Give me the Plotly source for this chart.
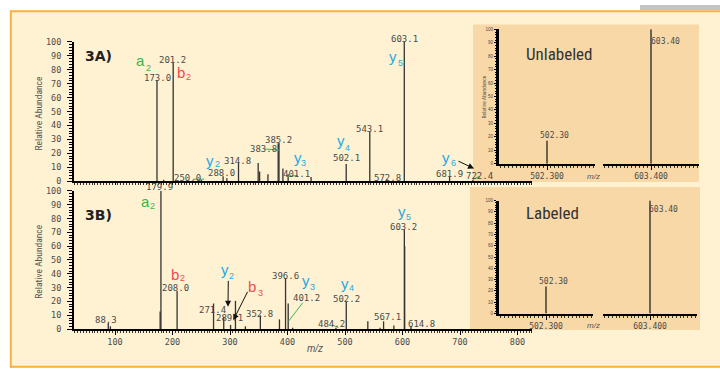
import plotly.graph_objects as go

W, H = 720, 373

# ---------------- data ----------------
# Panel 3A (top) peaks: m/z and relative abundance
top_mz = [173.0, 184.6, 201.2, 250.0, 288.0, 294.5, 314.8, 349.0, 351.5, 366.0,
          383.8, 385.2, 392.0, 401.1, 441.0, 502.1, 543.1, 572.8, 603.1, 681.9, 722.4]
top_int = [72.7, 1.0, 85.0, 1.0, 3.5, 2.0, 13.5, 13.0, 7.0, 5.0,
           27.0, 27.5, 9.0, 5.0, 3.0, 12.4, 35.7, 1.5, 100.0, 3.0, 1.0]
# Panel 3B (bottom) peaks
bot_mz = [88.3, 92.0, 178.5, 179.9, 208.0, 271.4, 289.1, 301.0, 309.5, 326.8,
          352.8, 386.0, 396.6, 401.2, 409.0, 484.2, 502.2, 539.7, 561.0, 567.1,
          585.0, 603.2, 603.8, 614.8]
bot_int = [4.4, 2.0, 12.7, 100.0, 27.5, 18.5, 9.0, 3.0, 20.4, 2.0,
           9.9, 7.0, 37.0, 18.5, 1.0, 1.0, 19.7, 5.6, 1.0, 5.6,
           2.5, 72.0, 60.0, 2.0]
# labelled peaks (m/z values printed on the chart)
top_labels = [173.0, 201.2, 250.0, 288.0, 314.8, 383.8, 385.2, 401.1, 502.1,
              543.1, 572.8, 603.1, 681.9, 722.4]
bot_labels = [88.3, 179.9, 208.0, 271.4, 289.1, 352.8, 396.6, 401.2, 484.2,
              502.2, 567.1, 603.2, 614.8]
# insets
ins_mz = [502.30, 603.40]
ins_unlab_int = [17.0, 100.0]
ins_lab_int = [24.0, 100.0]
main_xticks = [100, 200, 300, 400, 500, 600, 700, 800]
y_ticks = [0, 10, 20, 30, 40, 50, 60, 70, 80, 90, 100]

# ---------------- helpers ----------------
def PX(px):
    return px / W

def PY(py):
    return 1 - py / H

def sticks(xs, ys):
    X, Y = [], []
    for x, y in zip(xs, ys):
        X += [x, x, None]
        Y += [0, y, None]
    return X, Y

LINE_COL = "#333333"
GREEN = "#3cb44a"
RED = "#ef4a50"
BLUE = "#27aae1"
CREAM = "#FEF2D3"
TAN = "#F8D8A6"
ORANGE = "#FBB040"
TXT = "#4a4a4a"
MONO = "DejaVu Sans Mono"
NARROW = "Liberation Sans Narrow, Roboto Condensed, Roboto, Liberation Sans"

fig = go.Figure()

for (xs, ys, xa, ya) in [(top_mz, top_int, "x", "y"), (bot_mz, bot_int, "x2", "y2")]:
    X, Y = sticks(xs, ys)
    fig.add_trace(go.Scatter(x=X, y=Y, mode="lines", xaxis=xa, yaxis=ya,
                             line=dict(color=LINE_COL, width=1.3), hoverinfo="skip"))

for ints, xa1, xa2, ya in [(ins_unlab_int, "x3", "x4", "y3"), (ins_lab_int, "x5", "x6", "y5")]:
    X, Y = sticks(ins_mz[:1], ints[:1])
    fig.add_trace(go.Scatter(x=X, y=Y, mode="lines", xaxis=xa1, yaxis=ya,
                             line=dict(color="#222", width=1.3), hoverinfo="skip"))
    X, Y = sticks(ins_mz[1:], ints[1:])
    fig.add_trace(go.Scatter(x=X, y=Y, mode="lines", xaxis=xa2, yaxis=ya,
                             line=dict(color="#222", width=1.3), hoverinfo="skip"))

# main axis mapping: px = 57.5 + 0.575*mz over 74..532
XR = [(74 - 57.5) / 0.575, (532 - 57.5) / 0.575]

tickfont = dict(family=MONO, size=8.5, color=TXT)

def main_x(dom_anchor, labels):
    return dict(domain=[PX(74), PX(532)], range=XR, anchor=dom_anchor,
                showline=True, linecolor="black", linewidth=2,
                showgrid=False, zeroline=False,
                tickvals=main_xticks, ticks="outside",
                ticklen=4 if labels else 2, tickwidth=1, tickcolor="black",
                showticklabels=labels, tickfont=tickfont,
                minor=dict(ticks="outside", ticklen=2, dtick=5, tick0=0,
                           tickcolor="#333", tickwidth=1))

def main_y(dom, anchor):
    return dict(domain=dom, range=[0, 100], anchor=anchor,
                showline=True, linecolor="black", linewidth=2,
                showgrid=False, zeroline=False,
                tickvals=y_ticks, ticks="outside", ticklen=5, tickwidth=1,
                tickcolor="black", tickfont=tickfont, ticklabelstandoff=4,
                minor=dict(ticks="outside", ticklen=3, dtick=2, tick0=0,
                           tickcolor="black", tickwidth=1))

insfont = dict(family=MONO, size=8, color=TXT)

def ins_x(dom, rng, tv, anchor):
    return dict(domain=dom, range=rng, anchor=anchor,
                showline=True, linecolor="black", linewidth=2,
                showgrid=False, zeroline=False,
                tickvals=[tv], tickformat=".3f", ticks="outside", ticklen=4,
                tickcolor="black", tickfont=insfont,
                minor=dict(ticks="outside", ticklen=2, dtick=0.004, tick0=tv,
                           tickcolor="#333", tickwidth=1))

def ins_y(dom, anchor):
    return dict(domain=dom, range=[0, 100], anchor=anchor,
                showline=True, linecolor="black", linewidth=3,
                showgrid=False, zeroline=False,
                tickvals=y_ticks, ticks="outside", ticklen=2, tickwidth=1,
                tickcolor="black", tickfont=dict(family="Liberation Sans", size=4.5, color=TXT),
                minor=dict(ticks="outside", ticklen=1, dtick=2, tick0=0, tickcolor="black"))

fig.update_layout(
    width=W, height=H, margin=dict(l=0, r=0, t=0, b=0),
    paper_bgcolor="white", plot_bgcolor="rgba(0,0,0,0)", showlegend=False,
    xaxis=main_x("y", False),
    yaxis=main_y([PY(181), PY(38)], "x"),
    xaxis2=main_x("y2", True),
    yaxis2=main_y([PY(333), PY(191)], "x2"),
    xaxis3=ins_x([PX(499), PX(595)], [502.25, 502.35], ins_mz[0], "y3"),
    xaxis4=ins_x([PX(603), PX(699)], [603.35, 603.45], ins_mz[1], "y3"),
    yaxis3=ins_y([PY(163), PY(25)], "x3"),
    xaxis5=ins_x([PX(499), PX(593)], [502.25, 502.35], ins_mz[0], "y5"),
    xaxis6=ins_x([PX(603), PX(697)], [603.35, 603.45], ins_mz[1], "y5"),
    yaxis5=ins_y([PY(317), PY(201)], "x5"),
)

shapes = []
def rect(x0, y0, x1, y1, fill, layer="below"):
    shapes.append(dict(type="rect", xref="paper", yref="paper", x0=PX(x0), x1=PX(x1),
                       y0=PY(y1), y1=PY(y0), fillcolor=fill, line=dict(width=0), layer=layer))

def seg(x0, y0, x1, y1, color, width=1, layer="above"):
    shapes.append(dict(type="line", xref="paper", yref="paper", x0=PX(x0), x1=PX(x1),
                       y0=PY(y0), y1=PY(y1), line=dict(color=color, width=width), layer=layer))

rect(640, 0, 720, 5.5, "#C4C4C4")
rect(10, 6, 720, 372, CREAM)
rect(473, 20, 699, 182, TAN)
rect(470, 187, 700, 334, TAN)
seg(10, 6.3, 720, 6.3, ORANGE, 2, "below")
seg(10.8, 6, 10.8, 373, ORANGE, 2, "below")
seg(10, 371.6, 720, 371.6, ORANGE, 2, "below")
# green connector lines
seg(193, 179, 204, 179, GREEN)
seg(265, 148, 279, 149, GREEN)
seg(287, 176.5, 298, 175, GREEN)
seg(473, 179, 480, 176, GREEN)
seg(288.5, 325, 302.7, 306, GREEN)
seg(333, 329, 338.5, 331.5, GREEN)
fig.update_layout(shapes=shapes)

ann = []
def text(t, cx, cy, size, color, family=MONO, xanchor="center", angle=0, bold=False, italic=False):
    if bold:
        t = "<b>" + t + "</b>"
    if italic:
        t = "<i>" + t + "</i>"
    ann.append(dict(text=t, x=PX(cx), y=PY(cy), xref="paper", yref="paper",
                    xanchor=xanchor, yanchor="middle", showarrow=False, textangle=angle,
                    font=dict(family=family, size=size, color=color)))

# peak labels
top_pos = [(157, 74.5), (172, 56.5), (187, 177.7), (221.7, 172.3), (237.5, 160.7),
           (263.3, 147.7), (278.3, 139), (296.7, 173.3), (346, 157.3), (369.3, 127.7),
           (387.5, 177.7), (404, 35), (449.7, 174), (479, 175.7)]
bot_pos = [(106, 324), (159.7, 187.3), (175.7, 291.3), (212, 313.3), (230, 321.3),
           (259, 317), (285, 278), (306.7, 300.7), (331.7, 327.7), (346, 302.3),
           (387.7, 320.7), (403.7, 228.3), (421.7, 327.3)]
for v, (cx, cy) in zip(top_labels, top_pos):
    text(f"{v:.1f}", cx, cy, 9, TXT)
for v, (cx, cy) in zip(bot_labels, bot_pos):
    text(f"{v:.1f}", cx, cy, 9, TXT)

# ion labels (letter, subscript)
ions = [
    ("a", "2", GREEN, (140.8, 57.0), (148.0, 65.0)),
    ("b", "2", RED, (181.2, 69.6), (188.6, 74.0)),
    ("y", "2", BLUE, (210, 159.6), (217, 163.3)),
    ("y", "3", BLUE, (297.8, 156.3), (303, 162.5)),
    ("y", "4", BLUE, (340.8, 139.6), (347.8, 146.7)),
    ("y", "5", BLUE, (392.8, 53.3), (400.3, 59.2)),
    ("y", "6", BLUE, (445.5, 156.3), (453, 162.5)),
    ("a", "2", GREEN, (145.3, 201.4), (152.7, 207)),
    ("b", "2", RED, (174.5, 277.2), (182, 281.0)),
    ("y", "2", BLUE, (224.5, 271.6), (231.8, 278.8)),
    ("b", "3", RED, (252.5, 288.8), (260.8, 295.8)),
    ("y", "3", BLUE, (306, 283.4), (312.7, 289.5)),
    ("y", "4", BLUE, (345, 285.9), (351.7, 290.8)),
    ("y", "5", BLUE, (402, 212.4), (408.7, 217.8)),
]
for l, s, c, p1, p2 in ions:
    text(l, p1[0], p1[1], 15, c, family="Liberation Sans")
    text(s, p2[0], p2[1], 9, c, family="Liberation Sans")

text("3A)", 82.5, 52, 14, "#222", family="DejaVu Sans", xanchor="left", bold=True)
text("3B)", 82.5, 216, 14, "#222", family="DejaVu Sans", xanchor="left", bold=True)
text("Relative Abundance", 38.8, 111.7, 9.5, "#555", family=NARROW, angle=-90)
text("Relative Abundance", 38.8, 264, 9.5, "#555", family=NARROW, angle=-90)
text("m/z", 315, 352.7, 10, "#555", family="Liberation Sans", italic=True)

# insets
text("Unlabeled", 524, 50.7, 17, "#333", family=NARROW, xanchor="left")
text("Labeled", 524, 213.3, 17, "#333", family=NARROW, xanchor="left")
text("Relative Abundance", 484, 95, 5.5, "#555", family=NARROW, angle=-90)
text("m/z", 593, 176.7, 8, "#555", family="Liberation Sans", italic=True)
text("m/z", 593, 329, 8, "#555", family="Liberation Sans", italic=True)
text(f"{ins_mz[0]:.2f}", 554, 134, 8, TXT)
text(f"{ins_mz[1]:.2f}", 665.8, 37.7, 8, TXT)
text(f"{ins_mz[0]:.2f}", 553.3, 284, 8, TXT)
text(f"{ins_mz[1]:.2f}", 663.8, 210, 8, TXT)

# arrows
def arrow(hx, hy, tx, ty):
    ann.append(dict(text="", x=PX(hx), y=PY(hy), xref="paper", yref="paper",
                    showarrow=True, ax=tx - hx, ay=ty - hy, arrowhead=2, arrowsize=1.2,
                    arrowwidth=1, arrowcolor="#111"))

arrow(474, 168, 457, 160)
arrow(228, 310, 228.3, 282.7)
arrow(233.3, 324, 248.3, 294)

fig.update_layout(annotations=ann)
fig.write_html("out.html", config={"displayModeBar": False},
               post_script="document.body.style.margin='0';document.body.style.overflow='hidden';")
